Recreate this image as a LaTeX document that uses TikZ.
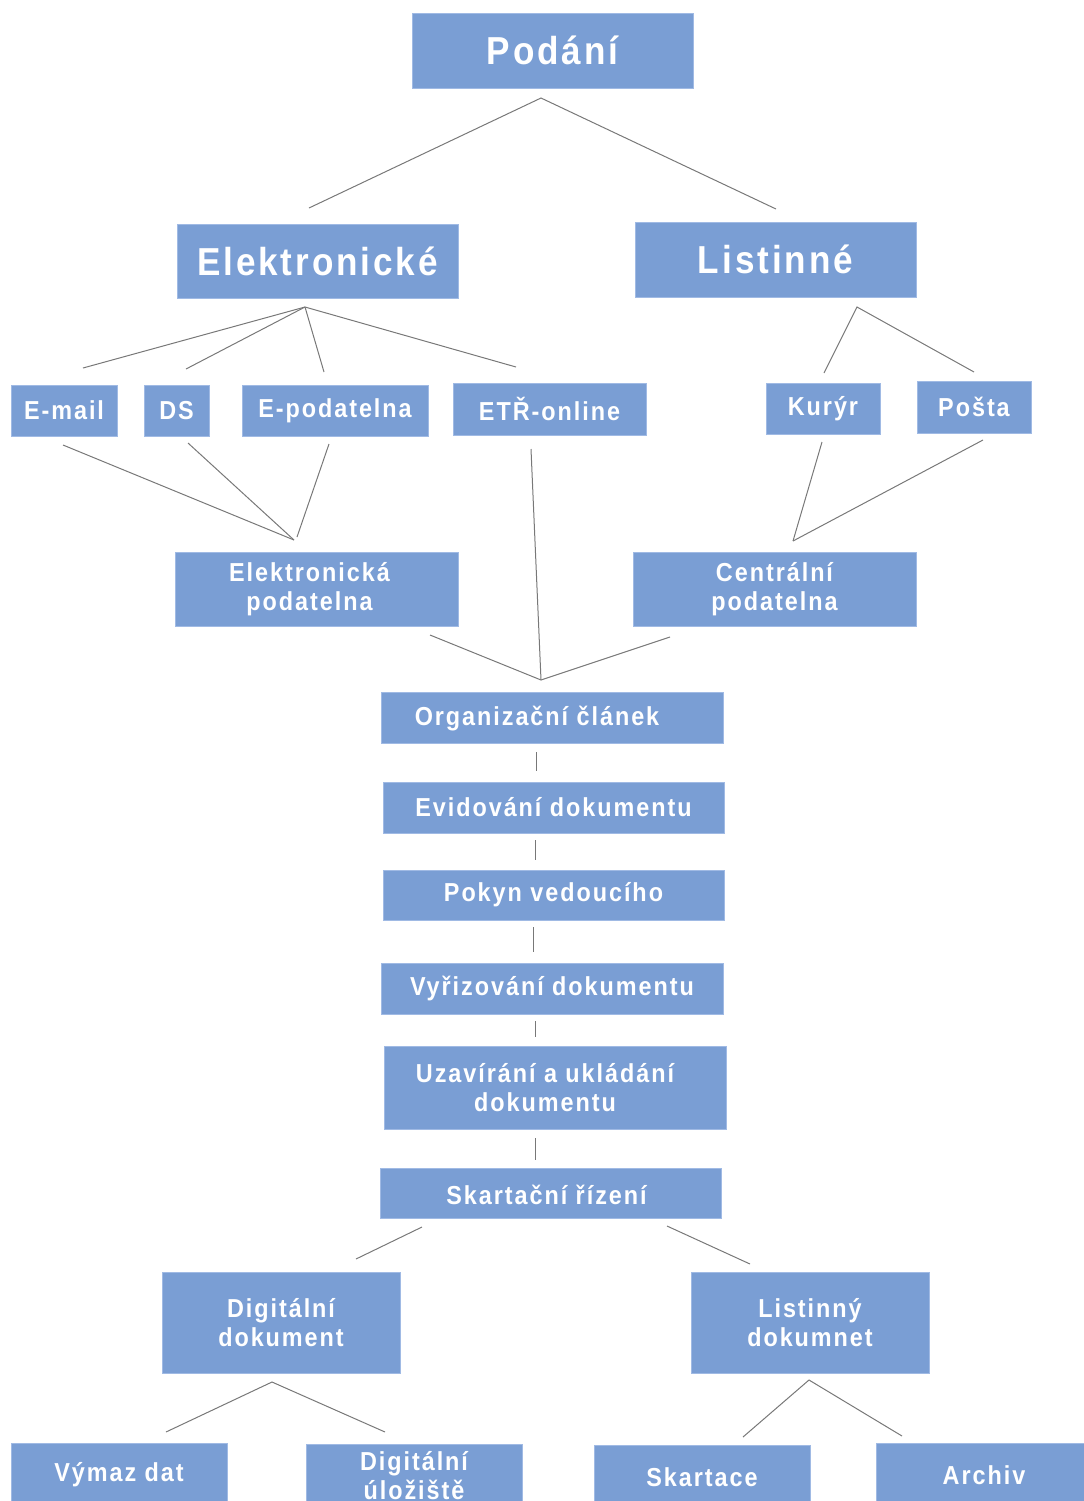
\documentclass[tikz,border=0pt]{standalone}
\usepackage{fontspec}
\setmainfont{Liberation Sans}[FakeStretch=0.9,LetterSpace=7.5]
\definecolor{boxfill}{RGB}{122,158,212}
\definecolor{boxedge}{RGB}{160,186,228}
\definecolor{linegray}{RGB}{120,120,120}
\begin{document}
\begin{tikzpicture}[x=0.5pt,y=-0.5pt,
  box/.style 2 args={fill=boxfill,draw=boxedge,line width=0.4pt,text=white,
    font=\bfseries\fontsize{13}{14.5}\selectfont,align=center,inner sep=0pt,
    minimum width=#1*0.5pt,minimum height=#2*0.5pt},
  bigbox/.style 2 args={box={#1}{#2},font=\bfseries\fontsize{19.5}{23}\selectfont},
  txt/.style={text=white,font=\bfseries\fontsize{13}{14.5}\selectfont,align=center,inner sep=0pt},
  conn/.style={draw=linegray,line width=0.5pt}]
\useasboundingbox (0,0) rectangle (1083,1501);
% nodes
\node[bigbox={281}{75}] (pod) at (552.5,50.5) {Podání};
\node[bigbox={281}{74}] (ele) at (317.5,261) {Elektronické};
\node[bigbox={281}{75}] (lis) at (775.5,259.5) {Listinné};
\node[box={106}{51}] (email) at (64,410.5) {E-mail};
\node[box={65}{51}] (ds) at (176.5,410.5) {DS};
\node[box={186}{51}] (epod) at (335,410.5) {E-podatelna};
\node[box={193}{52}] (etr) at (549.5,409) {ETŘ-online};
\node[box={114}{51}] (kur) at (823,408.5) {Kurýr};
\node[box={114}{52}] (pos) at (974,407) {Pošta};
\node[box={283}{74}] (elp) at (316.5,589) {};
\node[txt] (elpt) at ([xshift=-3.5pt]elp.center) {Elektronická\\podatelna};
\node[box={283}{74}] (cep) at (774.5,589) {Centrální\\podatelna};
\node[box={342}{51}] (org) at (552,717.5) {};
\node[txt] (orgt) at ([xshift=-7.5pt,yshift=-0.5pt]org.center) {Organizační článek};
\node[box={341}{51}] (evi) at (553.5,807.5) {Evidování dokumentu};
\node[box={341}{50}] (pok) at (553.5,895) {Pokyn vedoucího};
\node[box={342}{51}] (vyr) at (552,988.5) {Vyřizování dokumentu};
\node[box={342}{83}] (uza) at (555,1087.5) {};
\node[txt] (uzat) at ([xshift=-5pt]uza.center) {Uzavírání a ukládání\\dokumentu};
\node[box={341}{50}] (ska) at (550.5,1193) {};
\node[txt] (skat) at ([xshift=-2pt,yshift=-1pt]ska.center) {Skartační řízení};
\node[box={238}{101}] (dig) at (281,1322.5) {Digitální\\dokument};
\node[box={238}{101}] (lid) at (810,1322.5) {Listinný\\dokumnet};
\node[box={216}{64}] (vym) at (119,1475) {Výmaz dat};
\node[box={216}{64}] (dul) at (414,1476) {Digitální\\úložiště};
\node[box={216}{64}] (skc) at (702,1477) {Skartace};
\node[box={216}{64}] (arc) at (984,1475) {Archiv};
% connector points
\coordinate (podA) at (541,98);
\coordinate (podL) at (309,208);
\coordinate (podR) at (776,209);
\coordinate (eleA) at (305,307);
\coordinate (eleE) at (83,368);
\coordinate (eleD) at (186,369);
\coordinate (eleP) at (324,372);
\coordinate (eleT) at (516,367);
\coordinate (lisA) at (857,307);
\coordinate (lisK) at (824,373);
\coordinate (lisP) at (974,372);
\coordinate (emailB) at (63,445);
\coordinate (dsB) at (188,443);
\coordinate (epodB) at (329,444);
\coordinate (elpT) at (294,540);
\coordinate (elpT2) at (297,537);
\coordinate (kurB) at (822,442);
\coordinate (posB) at (983,440);
\coordinate (cepT) at (793,541);
\coordinate (etrB) at (531,449);
\coordinate (orgT) at (541,680);
\coordinate (elpB) at (430,635);
\coordinate (cepB) at (670,637);
\coordinate (orgB) at (536,752);
\coordinate (eviT) at (536,771);
\coordinate (eviB) at (535,840);
\coordinate (pokT) at (535,860);
\coordinate (pokB) at (533,927);
\coordinate (vyrT) at (533,952);
\coordinate (vyrB) at (535,1021);
\coordinate (uzaT) at (535,1037);
\coordinate (uzaB) at (535,1138);
\coordinate (skaT) at (535,1160);
\coordinate (skaL) at (422,1227);
\coordinate (digT) at (356,1259);
\coordinate (skaR) at (667,1226);
\coordinate (lidT) at (750,1264);
\coordinate (digA) at (272,1382);
\coordinate (vymT) at (166,1432);
\coordinate (dulT) at (385,1432);
\coordinate (lidA) at (809,1380);
\coordinate (skcT) at (743,1437);
\coordinate (arcT) at (902,1436);
% connectors
\draw[conn] (podL) -- (podA) -- (podR);
\draw[conn] (eleA) -- (eleE);
\draw[conn] (eleA) -- (eleD);
\draw[conn] (eleA) -- (eleP);
\draw[conn] (eleA) -- (eleT);
\draw[conn] (lisK) -- (lisA) -- (lisP);
\draw[conn] (emailB) -- (elpT);
\draw[conn] (dsB) -- (elpT);
\draw[conn] (epodB) -- (elpT2);
\draw[conn] (kurB) -- (cepT);
\draw[conn] (posB) -- (cepT);
\draw[conn] (etrB) -- (orgT);
\draw[conn] (elpB) -- (orgT) -- (cepB);
\draw[conn] (orgB) -- (eviT);
\draw[conn] (eviB) -- (pokT);
\draw[conn] (pokB) -- (vyrT);
\draw[conn] (vyrB) -- (uzaT);
\draw[conn] (uzaB) -- (skaT);
\draw[conn] (skaL) -- (digT);
\draw[conn] (skaR) -- (lidT);
\draw[conn] (vymT) -- (digA) -- (dulT);
\draw[conn] (skcT) -- (lidA) -- (arcT);
\end{tikzpicture}
\end{document}
